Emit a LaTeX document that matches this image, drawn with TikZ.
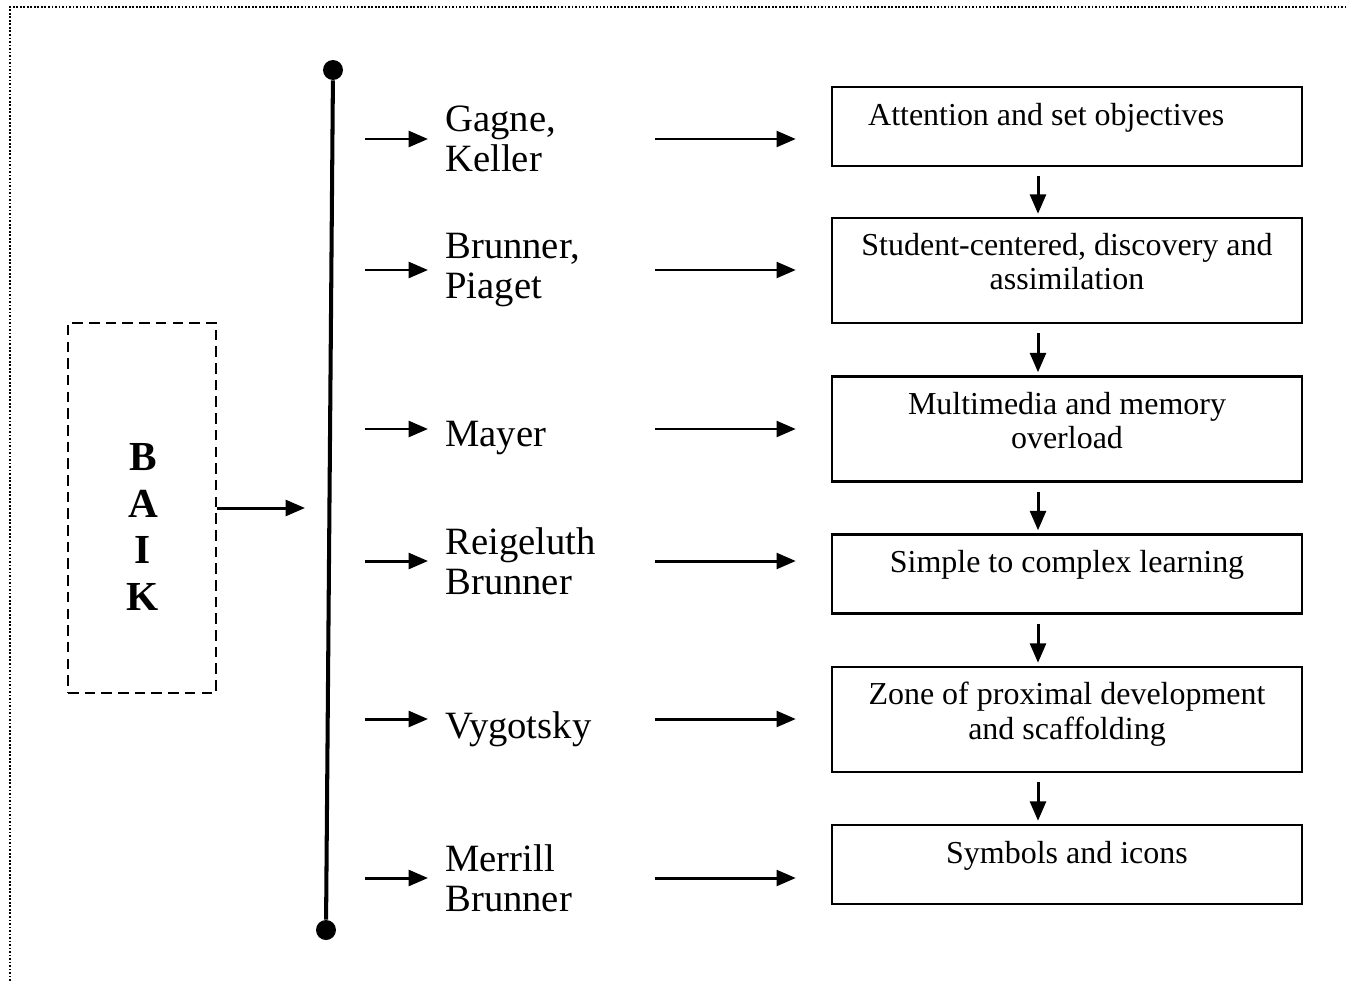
\documentclass[tikz,border=0pt]{standalone}
\usepackage{fontspec}
\setmainfont{Liberation Serif}
\usepackage{tikz}
\usetikzlibrary{
  positioning,
  arrows.meta,
  calc
}
\tikzset{
  stage/.style={
    draw,
    line width=1.4pt,
    minimum width=9.4cm,
    align=center,
    font=\fontsize{18.2}{19.5}\selectfont,
  },
  stageflat/.style={
    stage,
    minimum height=1.58cm,
    text depth=14pt,
  },
  stagetall/.style={
    stage,
    minimum height=2.1cm,
    text depth=10pt,
  },
  theory/.style={
    anchor=west,
    align=left,
    inner xsep=0pt,
    font=\fontsize{22}{23}\selectfont,
  },
  baikbox/.style={
    draw,
    line width=1.2pt,
    dash pattern=on 6pt off 3.5pt,
    minimum width=2.96cm,
    minimum height=7.4cm,
  },
  baikletters/.style={
    align=center,
    inner sep=0pt,
    font=\fontsize{23.5}{26.7}\selectfont\bfseries,
  },
  dot/.style={
    circle,
    fill,
    inner sep=0pt,
    minimum size=0.4cm,
  },
  edge/.style={
    -{Triangle[length=11pt,width=9pt]},
    line width=1.7pt,
  },
  spine/.style={
    line width=2.3pt,
  },
  frame/.style={
    densely dotted,
    line width=1pt,
  },
}

\begin{document}
\begin{tikzpicture}[x=0.02cm, y=-0.02cm]
  \useasboundingbox (0,0) rectangle (1347,981);
  \draw[frame] (10,981) -- (10,7) -- (1347,7);

  % left block and spine
  \node[baikbox] (baik) at (142,508) {};
  \node[baikletters] (baiktext) at (143,527) {B\\A\\I\\K};
  \node[dot] (top) at (333,70) {};
  \node[dot] (bot) at (326,930) {};
  \draw[spine] (top) -- (bot);
  \coordinate (hub) at (330,508);
  \draw[edge, shorten >=0.5cm] (baik.east) -- (hub);

  % theorists
  \node[theory] (nm1) at (445,139) {Gagne,\\Keller};
  \node[theory] (nm2) at (445,270) {Brunner,\\Piaget};
  \node[theory] (nm3) at (445,438) {Mayer};
  \node[theory] (nm4) at (445,561) {Reigeluth\\Brunner};
  \node[theory] (nm5) at (445,729) {Vygotsky};
  \node[theory] (nm6) at (445,878) {Merrill\\Brunner};

  % stages
  \node[stageflat] (b1) at (1067,126.5) {Attention and set objectives\hspace*{1.3em}};
  \node[stagetall] (b2) at (1067,270.5) {Student-centered, discovery and\\assimilation};
  \node[stagetall] (b3) at (1067,429) {Multimedia and memory\\overload};
  \node[stageflat] (b4) at (1067,574) {Simple to complex learning};
  \node[stagetall] (b5) at (1067,719.5) {Zone of proximal development\\and scaffolding};
  \node[stageflat] (b6) at (1067,864.5) {Symbols and icons};

  % edges
  \foreach \i/\y in {1/139, 2/270, 3/429, 4/561, 5/719, 6/878} {
    \coordinate (s\i) at (330,\y);
    \coordinate (r\i) at (655,\y);
    \draw[edge, shorten <=0.7cm, shorten >=0.34cm] (s\i) -- (nm\i.west |- s\i);
    \draw[edge, shorten >=0.7cm] (r\i) -- (b\i.west |- r\i);
  }
  \foreach \i/\j in {1/2, 2/3, 3/4, 4/5, 5/6} {
    \draw[edge, shorten <=0.18cm, shorten >=0.06cm]
      ([xshift=-0.58cm]b\i.south) -- ([xshift=-0.58cm]b\j.north);
  }
\end{tikzpicture}
\end{document}
